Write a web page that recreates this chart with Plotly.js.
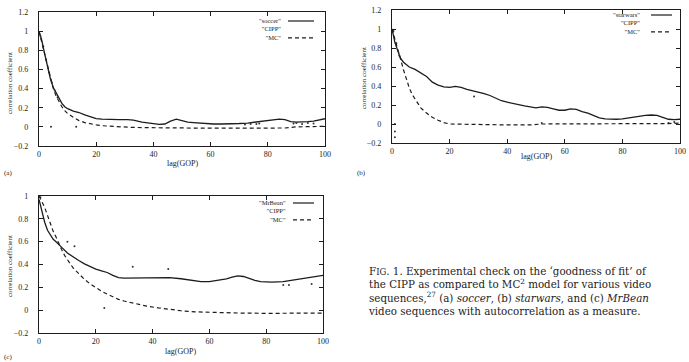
<!DOCTYPE html>
<html>
<head>
<meta charset="utf-8">
<script src="https://cdn.plot.ly/plotly-3.0.1.min.js"></script>
<style>html,body{margin:0;padding:0;background:#fff;}#chart{width:689px;height:362px;}</style>
</head>
<body>
<div id="chart"></div>
<script>
// ---------- data ----------
// (a) soccer
const lagSoccer = [0,1,2,3,4,5,6,7,8,9,10,12,14,16,18,20,22,25,28,31,33,36,38,40,42,44,46,48,50,52,54,56,58,61,64,67,70,73,76,78,80,82,84,86,88,90,92,94,96,98,100];
const soccer    = [1.0,0.9,0.76,0.62,0.5,0.41,0.35,0.29,0.245,0.21,0.19,0.165,0.15,0.125,0.105,0.085,0.08,0.075,0.075,0.075,0.07,0.05,0.04,0.035,0.025,0.03,0.06,0.08,0.065,0.05,0.045,0.04,0.035,0.03,0.03,0.03,0.035,0.04,0.05,0.06,0.07,0.075,0.08,0.075,0.055,0.05,0.05,0.055,0.06,0.07,0.085];
const lagMcA = [0,1,2,3,4,5,6,7,8,9,10,12,14,16,18,20,22,25,28,32,36,40,50,60,70,78,82,86,90,94,100];
const mcA    = [1.0,0.88,0.74,0.61,0.49,0.4,0.32,0.26,0.21,0.17,0.14,0.1,0.065,0.045,0.03,0.02,0.012,0.005,0.0,-0.005,-0.008,-0.01,-0.012,-0.014,-0.013,-0.012,-0.005,-0.012,0.0,0.005,0.005];
const lagCippA = [0.5,1.5,2.5,3.5,4.5,5.5,6.5,4.2,13,72,74,76,77,89,90,92,94,96];
const cippA    = [0.95,0.84,0.7,0.57,0.46,0.38,0.31,0.0,0.0,0.025,0.03,0.03,0.035,0.035,0.04,0.03,0.04,0.035];

// (b) starwars
const lagStar = [0,1,2,3,4,5,6,8,10,12,14,16,18,20,22,24,26,28,30,32,34,36,38,40,42,44,46,48,50,52,54,56,58,60,62,64,66,68,70,72,74,76,78,80,82,84,86,88,90,92,94,96,98,100];
const starwars = [1.0,0.86,0.77,0.69,0.65,0.62,0.6,0.575,0.535,0.5,0.44,0.41,0.39,0.385,0.395,0.385,0.365,0.35,0.34,0.32,0.3,0.27,0.245,0.23,0.215,0.205,0.19,0.18,0.17,0.18,0.175,0.16,0.145,0.145,0.16,0.155,0.13,0.115,0.09,0.065,0.055,0.05,0.05,0.055,0.065,0.075,0.085,0.09,0.095,0.09,0.07,0.05,0.045,0.05];
const lagMcB = [0,1,2,3,4,5,6,7,8,10,12,14,16,18,20,25,30,40,48,52,60,70,80,90,96,100];
const mcB    = [1.0,0.9,0.79,0.68,0.57,0.47,0.38,0.31,0.26,0.17,0.115,0.07,0.04,0.015,0.0,0.0,-0.005,-0.01,-0.01,0.0,0.0,0.0,0.0,0.0,0.005,0.01];
const lagCippB = [0.5,1.5,2.5,1,1,1,28.5,52,96,98];
const cippB    = [0.98,0.85,0.72,0.0,-0.08,-0.14,0.29,0.01,0.01,0.02];

// (c) MrBean
const lagBean = [0,1,2,3,4,5,6,7,8,10,12,14,16,18,20,22,24,26,28,30,34,38,42,46,50,54,57,60,63,66,68,70,72,74,76,78,82,86,90,94,97,100];
const mrbean  = [0.97,0.86,0.77,0.7,0.66,0.62,0.6,0.57,0.55,0.5,0.465,0.435,0.405,0.38,0.36,0.345,0.33,0.305,0.285,0.28,0.28,0.28,0.28,0.285,0.275,0.26,0.25,0.25,0.26,0.275,0.29,0.3,0.295,0.275,0.26,0.25,0.245,0.25,0.265,0.28,0.29,0.305];
const lagMcC = [0,1,2,3,4,5,6,7,8,9,10,12,14,16,18,20,22,24,26,28,30,34,38,42,46,50,55,60,70,80,90,100];
const mcC    = [1.0,0.95,0.9,0.83,0.76,0.69,0.64,0.58,0.53,0.48,0.44,0.37,0.32,0.27,0.23,0.195,0.166,0.14,0.115,0.095,0.08,0.055,0.035,0.02,0.005,-0.005,-0.015,-0.02,-0.025,-0.028,-0.028,-0.025];
const lagCippC = [0.5,10,12.5,23,33,45.5,86,88,96];
const cippC    = [0.99,0.6,0.56,0.02,0.38,0.36,0.22,0.22,0.23];

const xTicks = [0,20,40,60,80,100];
const legendA = ['"soccer"','"CIPP"','"MC"'];
const legendB = ['"starwars"','"CIPP"','"MC"'];
const legendC = ['"MrBean"','"CIPP"','"MC"'];
const xTitle = 'lag(GOP)';
const yTitle = 'correlation coefficient';
const captionLines = [
  'F<span style="font-size:8.5px">IG</span>. 1. Experimental check on the ‘goodness of fit’ of',
  'the CIPP as compared to MC<sup>2</sup> model for various video',
  'sequences,<sup>27</sup> (a) <i>soccer</i>, (b) <i>starwars</i>, and (c) <i>MrBean</i>',
  'video sequences with autocorrelation as a measure.'
];

// ---------- layout helpers ----------
const W = 689, H = 362;
const px = x => x / W;
const py = y => 1 - y / H;
const INK = '#1c1c1c';
const FONT = 'Liberation Serif, DejaVu Serif, serif';
const CAPFONT = 'DejaVu Serif, serif';

function solid(x, y, xa, ya) {
  return {x, y, xaxis: xa, yaxis: ya, mode: 'lines', line: {color: INK, width: 1.3}, hoverinfo: 'skip'};
}
function dashed(x, y, xa, ya) {
  return {x, y, xaxis: xa, yaxis: ya, mode: 'lines', line: {color: INK, width: 1.2, dash: '4px,3px'}, hoverinfo: 'skip'};
}
function dots(x, y, xa, ya) {
  return {x, y, xaxis: xa, yaxis: ya, mode: 'markers', marker: {color: '#333', size: 2}, hoverinfo: 'skip'};
}

const data = [
  solid(lagSoccer, soccer, 'x', 'y'), dots(lagCippA, cippA, 'x', 'y'), dashed(lagMcA, mcA, 'x', 'y'),
  solid(lagStar, starwars, 'x2', 'y2'), dots(lagCippB, cippB, 'x2', 'y2'), dashed(lagMcB, mcB, 'x2', 'y2'),
  solid(lagBean, mrbean, 'x3', 'y3'), dots(lagCippC, cippC, 'x3', 'y3'), dashed(lagMcC, mcC, 'x3', 'y3')
];

function xAxis(dom, anchor) {
  return {domain: dom, anchor, range: [0, 100], tickvals: xTicks, ticks: 'inside', ticklen: 4,
    tickcolor: INK, showline: true, mirror: 'ticks', linecolor: INK, linewidth: 1.2,
    showgrid: false, zeroline: false, tickfont: {family: FONT, size: 8, color: INK}, fixedrange: true};
}
function yAxis(dom, anchor, range, vals) {
  return {domain: dom, anchor, range, tickvals: vals, ticks: 'inside', ticklen: 4,
    tickcolor: INK, showline: true, mirror: 'ticks', linecolor: INK, linewidth: 1.2,
    showgrid: false, zeroline: false, ticklabelstandoff: 8,
    tickfont: {family: FONT, size: 8, color: INK}, fixedrange: true};
}
const yValsAB = [-0.2,0,0.2,0.4,0.6,0.8,1,1.2];
const yValsC = [-0.2,0,0.2,0.4,0.6,0.8,1];

const annotations = [];
const shapes = [];
function txt(text, x, y, opts) {
  annotations.push(Object.assign({text, x: px(x), y: py(y), xref: 'paper', yref: 'paper', showarrow: false,
    font: {family: FONT, size: 8, color: INK}, xanchor: 'center', yanchor: 'middle', borderpad: 0}, opts || {}));
}
// legend: one right-aligned text block plus line samples (gnuplot style: sample right of label)
function legend(labels, rightX, topY, sx0, sx1) {
  const fs = 6.5;
  const lh = fs * 1.3;
  txt(labels.join('<br>'), rightX, topY + lh, {xanchor: 'right', align: 'right', font: {family: FONT, size: fs, color: INK}});
  shapes.push({type: 'line', xref: 'paper', yref: 'paper', x0: px(sx0), x1: px(sx1), y0: py(topY), y1: py(topY), line: {color: INK, width: 1.2}});
  shapes.push({type: 'line', xref: 'paper', yref: 'paper', x0: px(sx0), x1: px(sx1), y0: py(topY + 2 * lh), y1: py(topY + 2 * lh), line: {color: INK, width: 1.2, dash: '4px,3px'}});
}
legend(legendA, 282, 21, 288, 314);
legend(legendB, 641, 15, 651, 672);
legend(legendC, 287, 203, 293, 314);

// axis titles
txt(xTitle, 182, 163);
txt(xTitle, 536, 156);
txt(xTitle, 181, 351);
txt(yTitle, 10, 83, {textangle: -90, font: {family: FONT, size: 7, color: INK}});
txt(yTitle, 364, 78, {textangle: -90, font: {family: FONT, size: 7, color: INK}});
txt(yTitle, 10, 266, {textangle: -90, font: {family: FONT, size: 7, color: INK}});
// panel letters
txt('(a)', 8, 173, {font: {family: FONT, size: 7, color: INK}});
txt('(b)', 362, 173, {font: {family: FONT, size: 7, color: INK}});
txt('(c)', 8, 357, {font: {family: FONT, size: 7, color: INK}});
// caption (one left-aligned block)
txt(captionLines.join('<br>'), 367, 291, {xanchor: 'left', align: 'left', font: {family: CAPFONT, size: 10.3, color: INK}});

const layout = {
  width: W, height: H, margin: {l: 0, r: 0, t: 0, b: 0},
  paper_bgcolor: '#fff', plot_bgcolor: '#fff', showlegend: false,
  xaxis: xAxis([px(39), px(325)], 'y'),
  yaxis: yAxis([py(146), py(12)], 'x', [-0.2, 1.2], yValsAB),
  xaxis2: xAxis([px(392), px(680)], 'y2'),
  yaxis2: yAxis([py(143), py(10)], 'x2', [-0.2, 1.2], yValsAB),
  xaxis3: xAxis([px(39), px(323)], 'y3'),
  yaxis3: yAxis([py(333), py(196)], 'x3', [-0.2, 1], yValsC),
  annotations, shapes
};

Plotly.newPlot('chart', data, layout, {displayModeBar: false, staticPlot: true});
</script>
</body>
</html>
